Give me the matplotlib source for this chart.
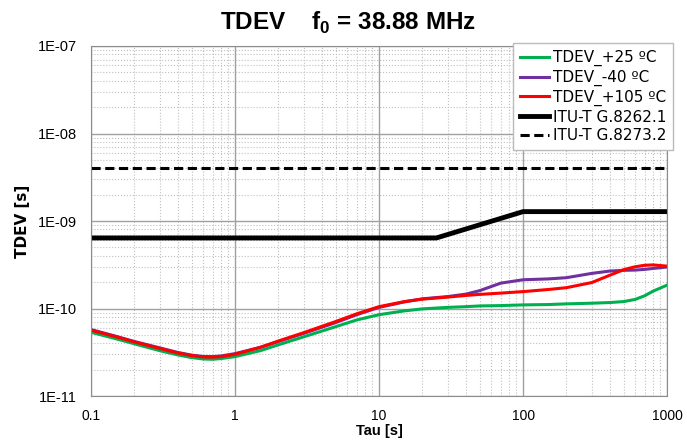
import math
import matplotlib
matplotlib.use("Agg")
import matplotlib.pyplot as plt
from matplotlib.ticker import LogLocator, FixedLocator, FuncFormatter

plt.rcParams['font.family'] = ['Liberation Sans', 'DejaVu Sans']
plt.rcParams['mathtext.fontset'] = 'custom'
plt.rcParams['mathtext.rm'] = 'Liberation Sans'
plt.rcParams['mathtext.bf'] = 'Liberation Sans:bold'

# Data
tau = [0.1, 0.15, 0.2, 0.3, 0.4, 0.5, 0.6, 0.7, 0.8, 1, 1.5, 2, 3, 5, 7,
       10, 15, 20, 30, 40, 50, 70, 100, 150, 200, 300, 400, 500, 600, 700,
       800, 1000]
tdev_25 = [5.35e-11, 4.5e-11, 3.95e-11, 3.3e-11, 2.95e-11, 2.75e-11, 2.65e-11,
           2.63e-11, 2.68e-11, 2.82e-11, 3.3e-11, 3.85e-11, 4.75e-11, 6.2e-11,
           7.4e-11, 8.5e-11, 9.4e-11, 9.9e-11, 1.03e-10, 1.05e-10, 1.07e-10,
           1.08e-10, 1.1e-10, 1.11e-10, 1.13e-10, 1.15e-10, 1.17e-10, 1.2e-10,
           1.27e-10, 1.4e-10, 1.58e-10, 1.85e-10]
tdev_m40 = [5.75e-11, 4.8e-11, 4.2e-11, 3.55e-11, 3.15e-11, 2.93e-11, 2.83e-11,
            2.82e-11, 2.87e-11, 3.05e-11, 3.6e-11, 4.2e-11, 5.2e-11, 6.9e-11,
            8.5e-11, 1.03e-10, 1.19e-10, 1.29e-10, 1.37e-10, 1.46e-10, 1.6e-10,
            1.95e-10, 2.13e-10, 2.18e-10, 2.25e-10, 2.52e-10, 2.68e-10,
            2.73e-10, 2.75e-10, 2.8e-10, 2.87e-10, 2.98e-10]
tdev_105 = [5.65e-11, 4.75e-11, 4.15e-11, 3.5e-11, 3.1e-11, 2.9e-11, 2.8e-11,
            2.78e-11, 2.82e-11, 3.0e-11, 3.6e-11, 4.25e-11, 5.3e-11, 7.1e-11,
            8.7e-11, 1.05e-10, 1.2e-10, 1.28e-10, 1.35e-10, 1.41e-10, 1.45e-10,
            1.5e-10, 1.56e-10, 1.65e-10, 1.73e-10, 1.98e-10, 2.4e-10, 2.78e-10,
            3.0e-10, 3.12e-10, 3.15e-10, 3.05e-10]

mask_8262_tau = [0.1, 25, 100, 1000]
mask_8262 = [6.4e-10, 6.4e-10, 1.28e-9, 1.28e-9]
mask_8273_tau = [0.1, 1000]
mask_8273 = [4e-9, 4e-9]

labels = ["TDEV_+25 \u00baC", "TDEV_-40 \u00baC", "TDEV_+105 \u00baC",
          "ITU-T G.8262.1", "ITU-T G.8273.2"]
x_ticks = [0.1, 1, 10, 100, 1000]
y_ticks = [1e-11, 1e-10, 1e-9, 1e-8, 1e-7]

fig = plt.figure(figsize=(6.87, 4.41), dpi=100)
ax = fig.add_axes([0.1325, 0.102, 0.8385, 0.7937])

ax.plot(tau, tdev_25, color='#00b050', lw=2.2, label=labels[0])
ax.plot(tau, tdev_m40, color='#7030a0', lw=2.2, label=labels[1])
ax.plot(tau, tdev_105, color='#ff0000', lw=2.2, label=labels[2])
ax.plot(mask_8262_tau, mask_8262, color='black', lw=3.5, label=labels[3])
ax.plot(mask_8273_tau, mask_8273, color='black', lw=2.2, ls=(0, (3, 1.5)),
        label=labels[4])

ax.set_xscale('log')
ax.set_yscale('log')
ax.set_xlim(0.1, 1000)
ax.set_ylim(1e-11, 1e-7)

ax.xaxis.set_major_locator(FixedLocator(x_ticks))
ax.xaxis.set_major_formatter(FuncFormatter(lambda v, p: f"{v:g}"))
ax.xaxis.set_minor_locator(LogLocator(base=10, subs=range(2, 10)))
ax.yaxis.set_major_locator(FixedLocator(y_ticks))
ax.yaxis.set_major_formatter(FuncFormatter(lambda v, p: "1E%03d" % round(math.log10(v))))
ax.yaxis.set_minor_locator(LogLocator(base=10, subs=range(2, 10)))

ax.grid(True, which='major', color='#a0a0a0', lw=1.0)
ax.grid(True, which='minor', color='#c0c0c0', lw=0.8, ls=':')
ax.set_axisbelow(True)
ax.tick_params(which='both', length=0)
ax.tick_params(axis='y', pad=10, labelsize=10.5)
ax.tick_params(axis='x', pad=9, labelsize=10)
for s in ax.spines.values():
    s.set_color('#8c8c8c')

ax.set_xlabel("Tau [s]", fontweight='bold', fontsize=10.5, labelpad=1)
ax.set_ylabel("TDEV [s]", fontweight='bold', fontsize=11, family='DejaVu Sans',
              labelpad=6)

fig.text(0.506, 0.932, r"TDEV    f$_\mathbf{0}$ = 38.88 MHz", ha='center',
         va='baseline', fontsize=17.5, fontweight='bold')

leg = ax.legend(loc='upper right', bbox_to_anchor=(0.98, 0.902),
                bbox_transform=fig.transFigure, fancybox=False, framealpha=1,
                edgecolor='#bbbbbb', prop={'family': 'DejaVu Sans', 'size': 11},
                handlelength=1.9, handletextpad=0.25, borderpad=0.45,
                labelspacing=0.24, borderaxespad=0)
leg.get_frame().set_linewidth(1.0)

fig.savefig("out.png", dpi=100)
